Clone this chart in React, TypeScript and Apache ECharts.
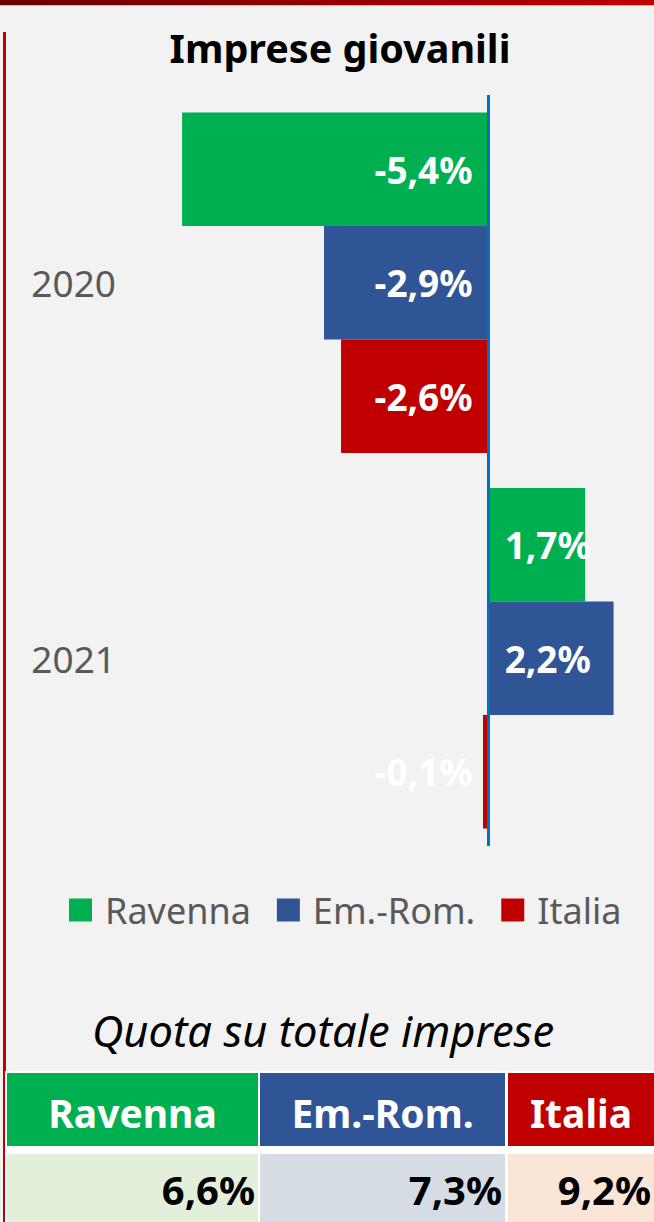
import React, { useEffect, useRef } from 'react';
import * as echarts from 'echarts';

const years = ['2020', '2021'];
const seriesNames = ['Ravenna', 'Em.-Rom.', 'Italia'];
const ravenna = [-5.4, 1.7];
const emiliaRomagna = [-2.9, 2.2];
const italia = [-2.6, -0.1];
const seriesColors = ['#00b050', '#2f5597', '#c00000'];

const shareLabels = ['Ravenna', 'Em.-Rom.', 'Italia'];
const shareValues = [6.6, 7.3, 9.2];
const shareHeaderColors = ['#00b050', '#2f5597', '#c00000'];
const shareCellColors = ['#e2efda', '#d6dce4', '#fbe5d6'];

const FONT = '"Noto Sans", "Open Sans", sans-serif';
const fmt = (v: number) => v.toFixed(1).replace('.', ',') + '%';

const colX = [7, 260, 508];
const colW = [251, 245, 146];

export default function App() {
  const ref = useRef<HTMLDivElement>(null);
  useEffect(() => {
    if (!ref.current) return;
    const chart = echarts.init(ref.current, null, { renderer: 'svg' });
    const seriesData = [ravenna, emiliaRomagna, italia];

    const graphics: any[] = [
      {
        type: 'rect',
        shape: { x: 0, y: 0, width: 654, height: 5 },
        style: {
          fill: new echarts.graphic.LinearGradient(0, 0, 1, 0, [
            { offset: 0, color: '#6a0000' },
            { offset: 1, color: '#c00000' },
          ]),
        },
      },
      { type: 'rect', shape: { x: 0, y: 5, width: 654, height: 1 }, style: { fill: '#e8b0b0' } },
      { type: 'rect', shape: { x: 3, y: 32, width: 3, height: 1190 }, style: { fill: '#c00000' } },
      {
        type: 'text',
        style: {
          text: 'Imprese giovanili', x: 340, y: 48,
          fill: '#000', fontSize: 39.5, fontWeight: 'bold', fontFamily: FONT,
          align: 'center', verticalAlign: 'middle', textAlign: 'center', textVerticalAlign: 'middle',
        },
      },
      {
        type: 'text',
        style: {
          text: 'Quota su totale imprese', x: 323, y: 1030,
          fill: '#000', fontSize: 43.5, fontStyle: 'italic', fontFamily: FONT,
          align: 'center', verticalAlign: 'middle', textAlign: 'center', textVerticalAlign: 'middle',
        },
      },
      { type: 'rect', shape: { x: 5, y: 1071, width: 649, height: 151 }, style: { fill: '#ffffff' } },
    ];
    shareLabels.forEach((lab, i) => {
      graphics.push({ type: 'rect', shape: { x: colX[i], y: 1073, width: colW[i], height: 73 }, style: { fill: shareHeaderColors[i] } });
      graphics.push({ type: 'rect', shape: { x: colX[i], y: 1154, width: colW[i], height: 68 }, style: { fill: shareCellColors[i] } });
      graphics.push({
        type: 'text',
        style: {
          text: lab, x: colX[i] + colW[i] / 2, y: 1112,
          fill: '#fff', fontSize: 39, fontWeight: 'bold', fontFamily: FONT,
          align: 'center', verticalAlign: 'middle', textAlign: 'center', textVerticalAlign: 'middle',
        },
      });
      graphics.push({
        type: 'text',
        style: {
          text: fmt(shareValues[i]), x: colX[i] + colW[i] - 3, y: 1189,
          fill: '#000', fontSize: 40, fontWeight: 'bold', fontFamily: FONT,
          align: 'right', verticalAlign: 'middle', textAlign: 'right', textVerticalAlign: 'middle',
        },
      });
    });

    chart.setOption({
      animation: false,
      backgroundColor: '#f2f2f2',
      textStyle: { fontFamily: FONT },
      grid: { left: 148, right: 23.4, top: 95, bottom: 376 },
      xAxis: { type: 'value', min: -6, max: 2.5, show: false },
      yAxis: {
        type: 'category',
        data: years,
        inverse: true,
        axisLine: { show: false },
        axisTick: { show: false },
        splitLine: { show: false },
        axisLabel: { fontSize: 37, color: '#595959', margin: 32, fontFamily: FONT },
      },
      legend: {
        data: seriesNames,
        left: 69,
        top: 892,
        padding: 0,
        icon: 'rect',
        itemWidth: 23,
        itemHeight: 23,
        itemGap: 26,
        textStyle: { fontSize: 36, color: '#595959', fontFamily: FONT, padding: [0, 0, 0, 8] },
      },
      graphic: { elements: graphics },
      series: seriesData.map((vals, i) => ({
        type: 'bar',
        name: seriesNames[i],
        data: vals.map((v) => ({ value: v, label: { position: v < 0 ? 'insideRight' : 'insideLeft' } })),
        itemStyle: { color: seriesColors[i] },
        barGap: '0%',
        barCategoryGap: '9.3%',
        label: {
          show: true,
          color: '#ffffff',
          fontWeight: 'bold',
          fontSize: 37,
          fontFamily: FONT,
          distance: 16,
          formatter: (p: any) => fmt(p.value),
        },
        markLine:
          i === 0
            ? {
                silent: true,
                symbol: 'none',
                label: { show: false },
                lineStyle: { color: '#0070c0', width: 3, type: 'solid' },
                data: [{ xAxis: 0 }],
              }
            : undefined,
      })),
    });
    return () => chart.dispose();
  }, []);
  return <div ref={ref} style={{ position: 'absolute', left: 0, top: 0, width: 654, height: 1222 }} />;
}
